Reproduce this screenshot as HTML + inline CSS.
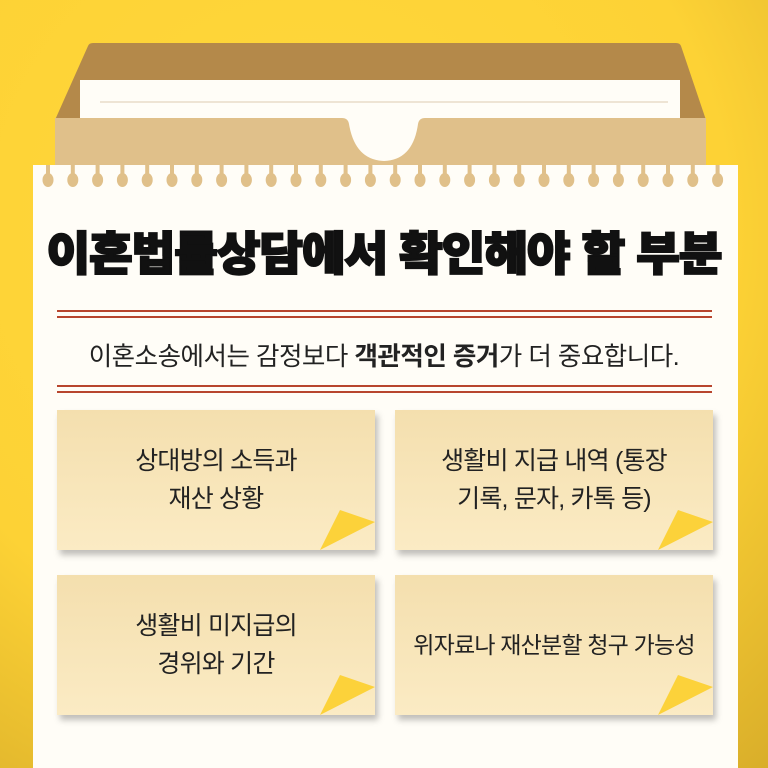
<!DOCTYPE html><html><head><meta charset="utf-8"><style>
body{margin:0;width:768px;height:768px;overflow:hidden;background:radial-gradient(circle at 40% 30%,#ffd83c 0%,#fdd235 60%,#d9ae2a 100%);font-family:"Liberation Sans","Noto Sans CJK KR",sans-serif;position:relative}
.a{position:absolute}
.card{position:absolute;width:318px;height:140px;background:linear-gradient(#f4dfae,#fbebc4);box-shadow:3px 5px 6px rgba(0,0,0,.25);display:flex;align-items:center;justify-content:center;text-align:center;font-size:25px;line-height:38px;color:#222;letter-spacing:-0.8px}
.card svg{position:absolute;right:0;bottom:0}
.rl{position:absolute;left:57px;width:655px;height:2px;background:#b8452e}
</style></head><body>
<svg class="a" style="left:0;top:0" width="768" height="768">
<path d="M88 46 Q89 43 93 43 L676 43 Q680 43 681 46 L706 120 L55 120 Z" fill="#b4894a"/>
<rect x="80" y="80" width="600" height="90" fill="#fffdf7"/>
<line x1="100" y1="102" x2="668" y2="102" stroke="#eee4d4" stroke-width="2"/>
<path d="M55 118 L342 118 Q348 118 349 124 Q355 160 384 161 Q413 160 418 124 Q419 118 425 118 L706 118 L706 250 L55 250 Z" fill="#e0c08a"/>
<rect x="33" y="165" width="705" height="610" fill="#fffdf7"/>
<g fill="#e0c08a" id="h"></g>
</svg>
<script>
var g=document.getElementById('h'),s='';for(var i=0;i<28;i++){var x=48+i*24.8;s+='<rect x="'+(x-2)+'" y="165" width="4" height="10"/><ellipse cx="'+x+'" cy="180" rx="5.5" ry="7"/>';}g.innerHTML=s;
</script>
<div class="a" style="left:0;width:768px;top:218px;text-align:center;font-size:46px;font-weight:900;color:#111;letter-spacing:-1px;-webkit-text-stroke:2px #111;transform:scaleX(1.03)">이혼법률상담에서 확인해야 할 부분</div>
<div class="rl" style="top:310px"></div><div class="rl" style="top:316px"></div>
<div class="a" style="left:0;width:768px;top:336px;text-align:center;font-size:25.5px;color:#222;letter-spacing:-0.5px">이혼소송에서는 감정보다 <b>객관적인 증거</b>가 더 중요합니다.</div>
<div class="rl" style="top:385px"></div><div class="rl" style="top:391px"></div>
<div class="card" style="left:57px;top:410px">상대방의 소득과<br>재산 상황<svg width="55" height="40"><path d="M55 12 L20 0 L0 40 Z" fill="#fcd23a"/></svg></div>
<div class="card" style="left:395px;top:410px">생활비 지급 내역 (통장<br>기록, 문자, 카톡 등)<svg width="55" height="40"><path d="M55 12 L20 0 L0 40 Z" fill="#fcd23a"/></svg></div>
<div class="card" style="left:57px;top:575px">생활비 미지급의<br>경위와 기간<svg width="55" height="40"><path d="M55 12 L20 0 L0 40 Z" fill="#fcd23a"/></svg></div>
<div class="card" style="left:395px;top:575px;font-size:23px">위자료나 재산분할 청구 가능성<svg width="55" height="40"><path d="M55 12 L20 0 L0 40 Z" fill="#fcd23a"/></svg></div>
</body></html>
